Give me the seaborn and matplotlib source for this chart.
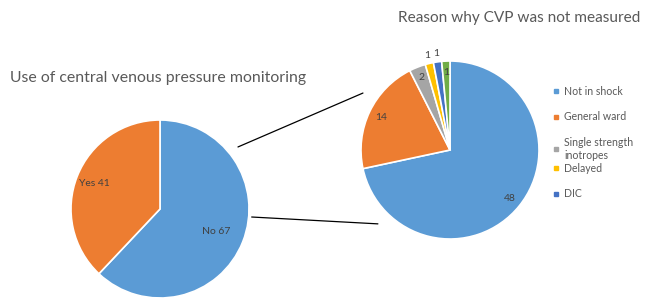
import numpy as np
import matplotlib
matplotlib.use("Agg")
import matplotlib.pyplot as plt
from matplotlib.patches import ConnectionPatch
from matplotlib.lines import Line2D
import seaborn as sns

sns.set_theme(style="white")
plt.rcParams['font.family'] = ['Lato', 'DejaVu Sans']

# ---- data ----
use_labels = ["No", "Yes"]
use_values = [67, 41]
use_colors = ["#5B9BD5", "#ED7D31"]

reason_labels = ["Not in shock", "General ward", "Single strength\ninotropes", "Delayed", "DIC", "Other"]
reason_values = [48, 14, 2, 1, 1, 1]
reason_colors = ["#5B9BD5", "#ED7D31", "#A5A5A5", "#FFC000", "#4472C4", "#70AD47"]
legend_count = 5

title_left = "Use of central venous pressure monitoring"
title_right = "Reason why CVP was not measured"

W, H = 646, 300
fig = plt.figure(figsize=(W / 100, H / 100), dpi=100)
fig.patch.set_facecolor("white")

def px_axes(cx, cy, r):
    return fig.add_axes([(cx - r) / W, (H - cy - r) / H, 2 * r / W, 2 * r / H])

label_color = "#404040"

# left pie
axL = px_axes(160, 209, 89)
wL, _ = axL.pie(use_values, colors=use_colors, startangle=90, counterclock=False,
                radius=1, wedgeprops=dict(edgecolor="white", linewidth=1.2))
axL.set_xlim(-1, 1); axL.set_ylim(-1, 1); axL.set_aspect("equal"); axL.axis("off")
left_dist = [0.68, 0.79]
for w, lab, v, d in zip(wL, use_labels, use_values, left_dist):
    ang = np.deg2rad((w.theta1 + w.theta2) / 2)
    axL.text(d * np.cos(ang), d * np.sin(ang), f"{lab} {v}", ha="center", va="center",
             fontsize=7.5, color=label_color)

# right pie
axR = px_axes(450, 150, 89)
wR, _ = axR.pie(reason_values, colors=reason_colors, startangle=90, counterclock=False,
                radius=1, wedgeprops=dict(edgecolor="white", linewidth=1.2))
axR.set_xlim(-1, 1); axR.set_ylim(-1, 1); axR.set_aspect("equal"); axR.axis("off")
right_dist = [0.87, 0.86, 0.87, 1.09, 1.09, 0.87]
for i, (w, v, d) in enumerate(zip(wR, reason_values, right_dist)):
    ang = np.deg2rad((w.theta1 + w.theta2) / 2)
    axR.text(d * np.cos(ang), d * np.sin(ang), f"{v}", ha="center", va="center",
             fontsize=7.5, color=label_color)

# connector lines
for (xa, ya), (xb, yb) in [((0.876, 0.697), (-0.978, 0.64)), ((1.03, -0.09), (-0.81, -0.83))]:
    con = ConnectionPatch(xyA=(xa, ya), coordsA=axL.transData,
                          xyB=(xb, yb), coordsB=axR.transData,
                          color="black", linewidth=0.9)
    fig.add_artist(con)

# titles
title_color = "#595959"
fig.text(10 / W, 1 - 78 / H, title_left, ha="left", va="center", fontsize=11.4, color=title_color)
fig.text(398 / W, 1 - 18 / H, title_right, ha="left", va="center", fontsize=11.1, color=title_color)

# legend (two blocks so the wrapped label overflows like the original)
handles = [Line2D([0], [0], marker="s", linestyle="none", markersize=3.5,
                  markerfacecolor=c, markeredgecolor=c) for c in reason_colors[:legend_count]]
leg_kw = dict(loc="upper left", frameon=False, fontsize=7.6, handlelength=0.6,
              handletextpad=0.45, labelspacing=1.35, borderaxespad=0, borderpad=0)
leg1 = fig.legend(handles[:3], reason_labels[:3], bbox_to_anchor=(553 / W, 1 - 86 / H), **leg_kw)
leg2 = fig.legend(handles[3:legend_count], reason_labels[3:legend_count],
                  bbox_to_anchor=(553 / W, 1 - 163 / H), **leg_kw)
for leg in (leg1, leg2):
    for t in leg.get_texts():
        t.set_color(title_color)
        t.set_linespacing(1.25)

fig.savefig("out.png", dpi=100, facecolor="white")
